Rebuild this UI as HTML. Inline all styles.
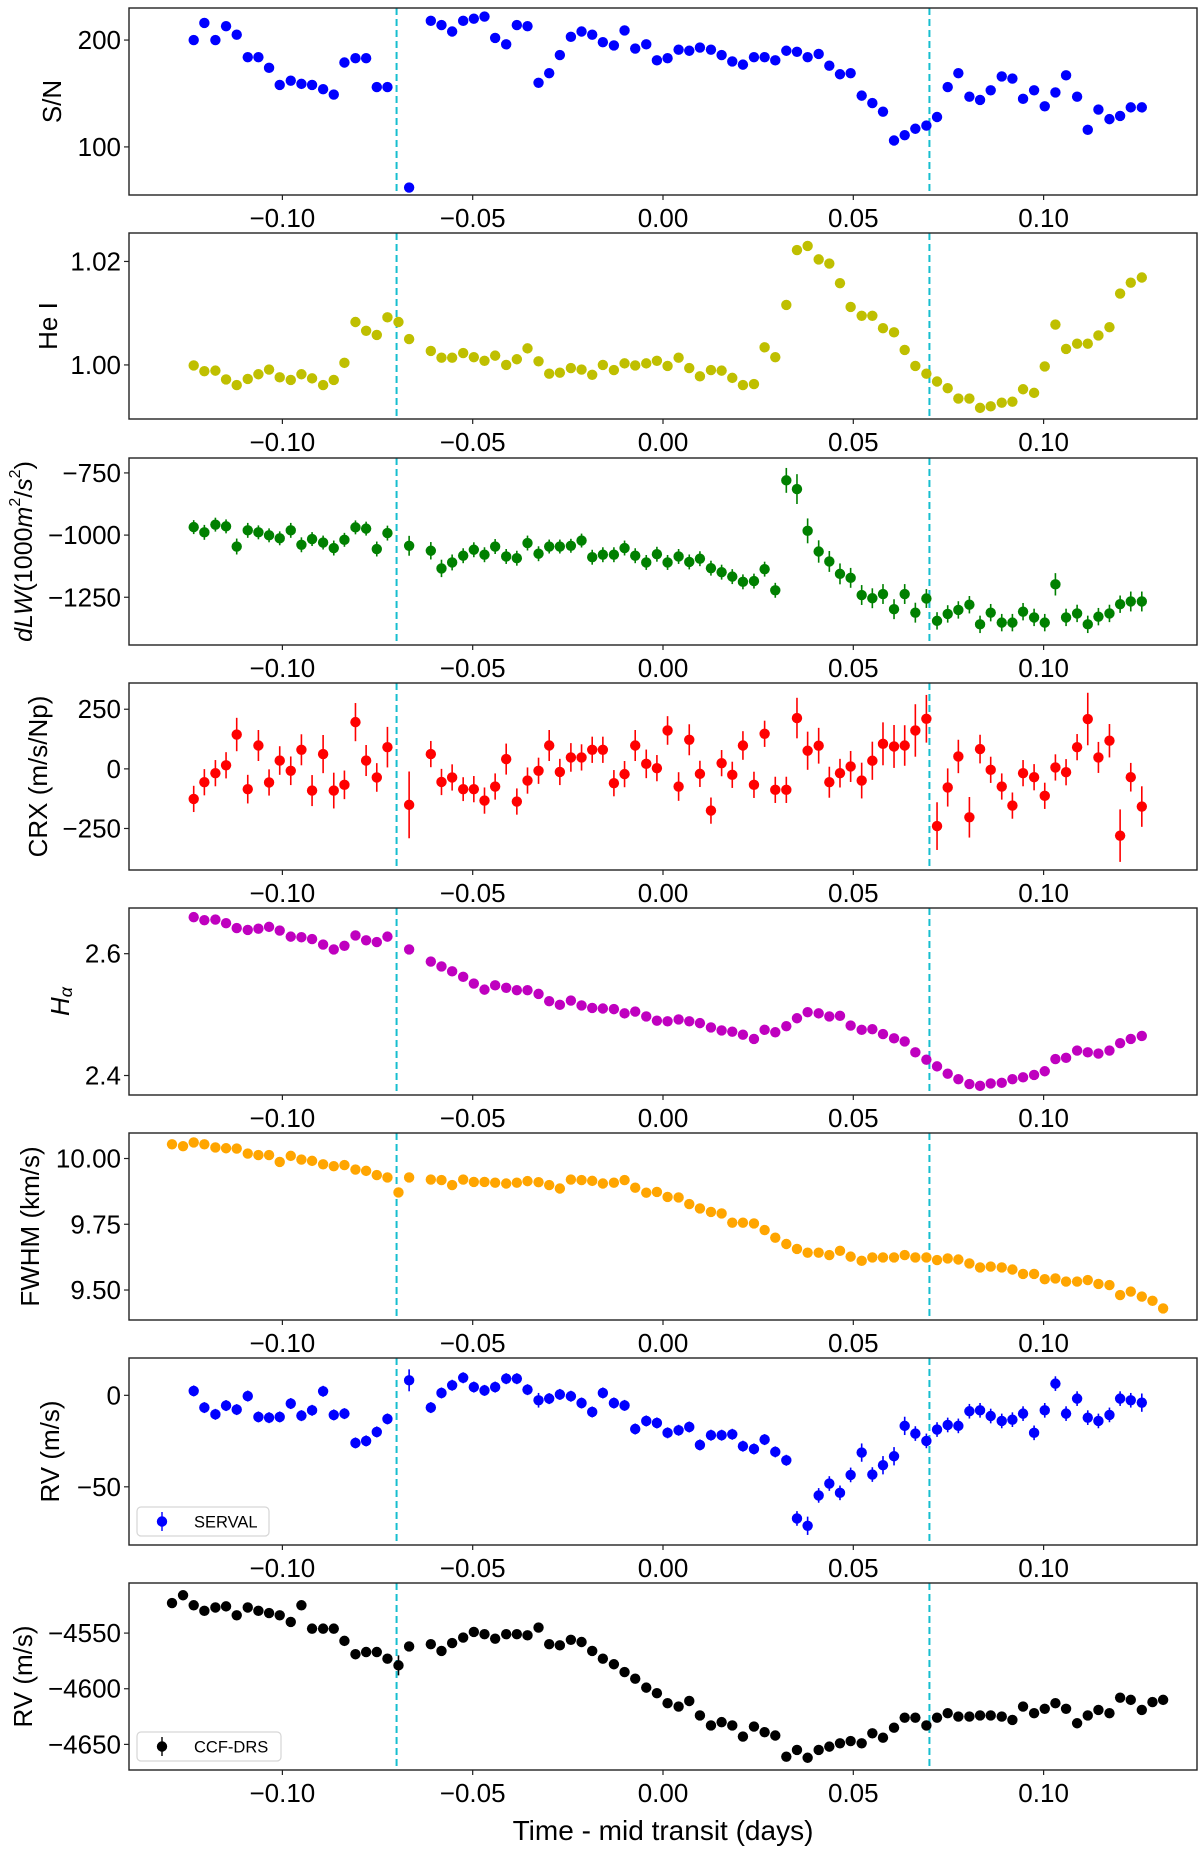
<!DOCTYPE html>
<html><head><meta charset="utf-8"><style>
body{margin:0;background:#fff}
svg{display:block;font-family:"Liberation Sans",Arial,sans-serif}
</style></head><body>
<svg id="fig" width="1200" height="1851" viewBox="0 0 1200 1851" xmlns="http://www.w3.org/2000/svg"></svg>
<script>
const times=[-0.1290,-0.1261,-0.1233,-0.1205,-0.1176,-0.1148,-0.1120,-0.1091,-0.1063,-0.1035,-0.1007,-0.0978,-0.0950,-0.0922,-0.0893,-0.0865,-0.0837,-0.0808,-0.0780,-0.0752,-0.0724,-0.0695,-0.0667,-0.0639,-0.0610,-0.0582,-0.0554,-0.0525,-0.0497,-0.0469,-0.0441,-0.0412,-0.0384,-0.0356,-0.0327,-0.0299,-0.0271,-0.0242,-0.0214,-0.0186,-0.0158,-0.0129,-0.0101,-0.0073,-0.0044,-0.0016,0.0012,0.0041,0.0069,0.0097,0.0126,0.0154,0.0182,0.0210,0.0239,0.0267,0.0295,0.0324,0.0352,0.0380,0.0409,0.0437,0.0465,0.0493,0.0522,0.0550,0.0578,0.0607,0.0635,0.0663,0.0692,0.0720,0.0748,0.0776,0.0805,0.0833,0.0861,0.0890,0.0918,0.0946,0.0975,0.1003,0.1031,0.1059,0.1088,0.1116,0.1144,0.1173,0.1201,0.1229,0.1258,0.1286,0.1314];
const xTicks=[-0.10,-0.05,0.00,0.05,0.10];
const xTickLabels=["\u22120.10","\u22120.05","0.00","0.05","0.10"];
const transitLines=[-0.07,0.07];

const snr=[null,null,200,216,200,213,205,184,184,174,158,162,159,158,154,149,179,183,183,156,156,null,62,null,218,214,208,218,220,222,202,196,214,213,160,169,186,203,208,205,198,195,209,192,196,181,183,191,190,193,191,186,180,177,184,184,181,190,189,184,187,176,168,169,148,141,133,106,111,117,120,128,156,169,147,144,153,166,164,145,153,138,151,167,147,116,135,126,129,137,137,null,null];
const heI=[null,null,0.9999,0.9988,0.9989,0.9972,0.9961,0.9973,0.9982,0.9991,0.9976,0.9971,0.9982,0.9974,0.9961,0.9971,1.0004,1.0083,1.0066,1.0058,1.0092,1.0083,1.0050,null,1.0027,1.0014,1.0014,1.0023,1.0015,1.0008,1.0018,1.0000,1.0011,1.0032,1.0007,0.9983,0.9985,0.9994,0.9991,0.9981,1.0000,0.9990,1.0003,0.9999,1.0003,1.0008,0.9998,1.0014,0.9994,0.9978,0.9990,0.9989,0.9975,0.9961,0.9963,1.0034,1.0015,1.0116,1.0222,1.0230,1.0204,1.0196,1.0158,1.0112,1.0095,1.0095,1.0071,1.0063,1.0029,0.9998,0.9983,0.9968,0.9955,0.9935,0.9935,0.9917,0.9920,0.9927,0.9929,0.9953,0.9946,0.9997,1.0078,1.0031,1.0041,1.0041,1.0057,1.0073,1.0138,1.0159,1.0169,null,null];
const dlw=[null,null,-968,-989,-958,-965,-1046,-981,-989,-1001,-1013,-981,-1039,-1016,-1030,-1052,-1019,-969,-974,-1056,-992,null,-1043,null,-1063,-1134,-1110,-1083,-1059,-1079,-1046,-1086,-1093,-1032,-1075,-1046,-1046,-1043,-1022,-1089,-1079,-1079,-1052,-1083,-1110,-1077,-1110,-1086,-1108,-1095,-1133,-1149,-1167,-1188,-1185,-1137,-1222,-780,-815,-983,-1066,-1106,-1156,-1172,-1241,-1254,-1237,-1298,-1237,-1312,-1255,-1345,-1317,-1301,-1280,-1359,-1312,-1352,-1352,-1308,-1331,-1352,-1198,-1331,-1315,-1359,-1328,-1315,-1278,-1267,-1267,null,null];
const dlwErr=[0,0,28,30,28,28,32,30,28,28,28,30,30,28,28,30,28,28,28,30,30,0,40,0,35,35,32,30,30,30,30,30,30,30,30,28,28,28,28,30,30,30,30,30,30,30,30,30,30,30,30,30,30,30,30,30,30,50,60,50,45,42,42,40,40,40,40,40,40,40,38,35,35,35,35,35,35,35,35,35,35,35,45,35,35,35,35,35,35,40,40,0,0];
const crx=[null,null,-126,-56,-18,15,144,-85,98,-57,35,-8,80,-91,62,-91,-67,196,35,-36,91,null,-151,null,62,-55,-36,-85,-85,-133,-74,41,-137,-49,-8,98,-13,48,48,80,80,-60,-22,98,21,3,161,-74,122,-21,-175,24,-25,98,-67,147,-88,-88,213,76,97,-56,-18,10,-49,34,105,94,98,161,210,-240,-78,52,-203,83,-4,-74,-154,-18,-35,-113,6,-14,91,209,48,118,-280,-35,-158,null,null];
const crxErr=[0,0,55,55,55,55,70,60,65,55,60,60,65,65,80,75,60,80,65,60,85,0,140,0,55,55,55,50,55,55,55,65,55,55,55,65,55,60,55,55,55,55,55,65,60,55,60,60,65,55,55,55,55,60,55,55,55,55,85,80,75,65,60,65,75,80,90,90,85,110,100,100,80,70,85,60,55,55,55,55,55,55,55,55,55,110,65,70,110,60,85,0,0];
const halpha=[null,null,2.660,2.655,2.656,2.650,2.642,2.639,2.641,2.644,2.638,2.628,2.627,2.624,2.615,2.607,2.613,2.630,2.622,2.619,2.628,null,2.607,null,2.587,2.579,2.571,2.562,2.551,2.541,2.548,2.544,2.540,2.540,2.534,2.522,2.516,2.523,2.515,2.511,2.510,2.509,2.502,2.505,2.497,2.490,2.489,2.492,2.489,2.486,2.479,2.474,2.472,2.467,2.460,2.475,2.471,2.481,2.494,2.504,2.502,2.497,2.498,2.482,2.475,2.476,2.468,2.461,2.456,2.438,2.426,2.415,2.403,2.394,2.386,2.383,2.387,2.388,2.394,2.397,2.401,2.407,2.427,2.429,2.441,2.438,2.436,2.441,2.453,2.460,2.465,null,null];
const fwhm=[10.054,10.047,10.061,10.054,10.042,10.039,10.038,10.019,10.013,10.013,9.987,10.010,9.996,9.991,9.978,9.971,9.975,9.958,9.953,9.937,9.928,9.871,9.928,null,9.920,9.918,9.899,9.920,9.911,9.911,9.908,9.905,9.908,9.914,9.910,9.899,9.886,9.920,9.918,9.915,9.905,9.908,9.918,9.889,9.870,9.873,9.854,9.852,9.827,9.810,9.797,9.791,9.756,9.756,9.753,9.728,9.699,9.675,9.656,9.642,9.642,9.633,9.649,9.627,9.611,9.624,9.624,9.624,9.633,9.624,9.624,9.614,9.620,9.616,9.601,9.586,9.589,9.586,9.578,9.561,9.561,9.541,9.544,9.532,9.532,9.538,9.523,9.519,9.481,9.494,9.475,9.459,9.430];
const rvServal=[null,null,2.4,-6.7,-10.4,-5.6,-7.8,-0.4,-11.8,-12.2,-11.8,-4.5,-11.1,-8.2,2.2,-10.7,-10.0,-26.0,-24.9,-20.0,-12.9,null,8.2,null,-6.7,1.3,5.5,9.6,4.5,2.7,4.5,9.1,9.1,3.1,-2.7,-1.8,0.5,-0.5,-4.2,-9.1,1.3,-4.2,-5.5,-18.4,-14.0,-15.1,-20.5,-19.1,-17.3,-27.1,-21.8,-21.8,-21.3,-27.8,-29.3,-24.2,-30.9,-35.5,-67.3,-71.3,-54.7,-48.2,-53.3,-43.5,-31.3,-43.3,-38.2,-33.3,-16.7,-20.9,-24.9,-18.7,-16.2,-16.7,-8.7,-8.2,-11.3,-14.0,-13.3,-10.0,-20.5,-8.2,6.4,-10.0,-1.8,-12.2,-14.0,-10.7,-1.8,-2.7,-4.0,null,null];
const rvServalErr=[0,0,3,3,3,3,3,3,3,3,3,3,3,3,3,3,3,3,3,3,3,0,6,0,3,3,3,3,3,3,3,3,3,3,4,3,3,3,3,3,3,3,3,3,3,3,3,3,3,3,3,3,3,3,3,3,3,3,4,5,4,4,4,4,5,4,5,5,5,4,4,4,4,4,4,4,4,4,4,4,4,4,4,4,4,4,4,4,4,4,5,0,0];
const rvCcf=[-4523,-4516,-4525,-4530,-4527,-4526,-4534,-4527,-4530,-4532,-4534,-4540,-4525,-4546,-4546,-4546,-4557,-4569,-4567,-4567,-4573,-4579,-4562,null,-4560,-4566,-4559,-4554,-4549,-4551,-4555,-4551,-4551,-4552,-4545,-4560,-4561,-4556,-4558,-4566,-4573,-4578,-4585,-4591,-4599,-4604,-4613,-4616,-4611,-4624,-4633,-4630,-4633,-4643,-4634,-4639,-4642,-4661,-4655,-4662,-4655,-4652,-4649,-4647,-4649,-4640,-4644,-4635,-4626,-4626,-4633,-4626,-4622,-4625,-4625,-4624,-4624,-4625,-4628,-4616,-4622,-4618,-4613,-4618,-4631,-4624,-4619,-4622,-4608,-4610,-4619,-4612,-4610];
const rvCcfErr=[2,2,2,2,2,2,2,2,2,2,2,2,2,2,2,2,2,2,2,2,2,9,3,0,2,2,2,2,2,2,2,2,2,2,2,2,2,2,2,2,2,2,2,2,2,2,2,2,2,2,2,2,2,2,2,2,2,2,2,2,2,2,2,2,2,2,2,2,2,2,2,2,2,2,2,2,2,2,2,2,2,2,2,2,2,2,2,2,2,2,2,2,2];

const NS="http://www.w3.org/2000/svg";
const svg=document.getElementById('fig');
const X0=129,X1=1197,XMIN=-0.1403,XMAX=0.1403;
function xs(t){return X0+(t-XMIN)/(XMAX-XMIN)*(X1-X0);}
function mk(tag,attrs,parent){const e=document.createElementNS(NS,tag);for(const k in attrs)e.setAttribute(k,attrs[k]);(parent||svg).appendChild(e);return e;}

const panels=[
 {key:'snr',vals:snr,errs:null,color:'#0000ff',top:8,bot:195,ymin:55,ymax:230,ticks:[100,200],labels:['100','200'],ylabel:'S/N',lx:52},
 {key:'he-i',vals:heI,errs:null,color:'#bfbf00',top:233,bot:419,ymin:0.98955,ymax:1.0255,ticks:[1.00,1.02],labels:['1.00','1.02'],ylabel:'He I',lx:48},
 {key:'dlw',vals:dlw,errs:dlwErr,color:'#008000',top:458,bot:645,ymin:-1442,ymax:-690,ticks:[-1250,-1000,-750],labels:['\u22121250','\u22121000','\u2212750'],ylabel:'dlw',lx:24},
 {key:'crx',vals:crx,errs:crxErr,color:'#ff0000',top:683,bot:870,ymin:-424,ymax:360,ticks:[-250,0,250],labels:['\u2212250','0','250'],ylabel:'CRX (m/s/Np)',lx:38},
 {key:'h-alpha',vals:halpha,errs:null,color:'#bf00bf',top:908,bot:1095,ymin:2.368,ymax:2.675,ticks:[2.4,2.6],labels:['2.4','2.6'],ylabel:'halpha',lx:60},
 {key:'fwhm',vals:fwhm,errs:null,color:'#ffa500',top:1133,bot:1320,ymin:9.386,ymax:10.097,ticks:[9.50,9.75,10.00],labels:['9.50','9.75','10.00'],ylabel:'FWHM (km/s)',lx:30},
 {key:'rv-serval',vals:rvServal,errs:rvServalErr,color:'#0000ff',top:1358,bot:1545,ymin:-81.8,ymax:20.4,ticks:[-50,0],labels:['\u221250','0'],ylabel:'RV (m/s)',lx:50,legend:'SERVAL',legW:132},
 {key:'rv-ccf',vals:rvCcf,errs:rvCcfErr,color:'#000000',top:1583,bot:1770,ymin:-4673,ymax:-4505,ticks:[-4650,-4600,-4550],labels:['\u22124650','\u22124600','\u22124550'],ylabel:'RV (m/s)',lx:23,legend:'CCF-DRS',legW:144}
];

panels.forEach(p=>{
 const g=mk('g',{});
 
 
 const ys=v=>p.bot-(v-p.ymin)/(p.ymax-p.ymin)*(p.bot-p.top);
 // transit lines
 transitLines.forEach(t=>{
  const l=mk('line',{x1:xs(t),x2:xs(t),y1:p.top,y2:p.bot,stroke:'#17becf','stroke-width':2,'stroke-dasharray':'7,4'},g);
  
  
 });
 // points
 p.vals.forEach((v,i)=>{
  if(v===null)return;
  const cx=xs(times[i]),cy=ys(v);
  if(p.errs&&p.errs[i]>0){
   const e=mk('line',{x1:cx,x2:cx,y1:ys(v+p.errs[i]),y2:ys(v-p.errs[i]),stroke:p.color,'stroke-width':1.6},g);
   
   
  }
  const c=mk('circle',{cx:cx,cy:cy,r:5.2,fill:p.color},g);
  
  
 });
 // frame
 const fr=mk('rect',{x:X0,y:p.top,width:X1-X0,height:p.bot-p.top,fill:'none',stroke:'#222','stroke-width':1.4},g);
 
 
 // x ticks
 xTicks.forEach((t,k)=>{
  const x=xs(t);
  mk('line',{x1:x,x2:x,y1:p.bot,y2:p.bot+5,stroke:'#222','stroke-width':1.2},g);
  const tl=mk('text',{x:x,y:p.bot+32,'font-size':26,'text-anchor':'middle',fill:'#000'},g);
  tl.textContent=xTickLabels[k];
  
  
 });
 // y ticks
 p.ticks.forEach((t,k)=>{
  const y=ys(t);
  mk('line',{x1:X0-5,x2:X0,y1:y,y2:y,stroke:'#222','stroke-width':1.2},g);
  const tl=mk('text',{x:X0-8,y:y+9,'font-size':26,'text-anchor':'end',fill:'#000'},g);
  tl.textContent=p.labels[k];
  
  
 });
 // y label
 const cy=(p.top+p.bot)/2;
 const yl=mk('text',{x:p.lx,y:cy,'font-size':26,'text-anchor':'middle',transform:'rotate(-90 '+p.lx+' '+cy+')',fill:'#000','dominant-baseline':'central'},g);
 
 
 if(p.ylabel==='dlw'){
  yl.setAttribute('font-size','25');
  yl.innerHTML='<tspan font-style="italic">dLW</tspan>(1000<tspan font-style="italic">m</tspan><tspan font-size="16" dy="-9">2</tspan><tspan dy="9">/</tspan><tspan font-style="italic">s</tspan><tspan font-size="16" dy="-9">2</tspan><tspan dy="9">)</tspan>';
 }else if(p.ylabel==='halpha'){
  yl.innerHTML='<tspan font-style="italic">H</tspan><tspan font-style="italic" font-size="18" dy="6">\u03b1</tspan>';
 }else{
  yl.textContent=p.ylabel;
 }
 // legend
 if(p.legend){
  const lg=mk('g',{},g);
  
  
  const ly=p.bot-38;
  mk('rect',{x:137,y:ly,width:p.legW,height:29,rx:4,fill:'#fff',stroke:'#d6d6d6','stroke-width':1.2},lg);
  mk('line',{x1:162,x2:162,y1:ly+5,y2:ly+24,stroke:p.color,'stroke-width':1.4},lg);
  mk('circle',{cx:162,cy:ly+14.5,r:5.2,fill:p.color},lg);
  const lt=mk('text',{x:194,y:ly+20.5,'font-size':16.5,fill:'#000'},lg);
  lt.textContent=p.legend;
  
  
 }
});
const xl=mk('text',{x:663,y:1840,'font-size':28,'text-anchor':'middle',fill:'#000'});
xl.textContent='Time - mid transit (days)';


</script>
</body></html>
